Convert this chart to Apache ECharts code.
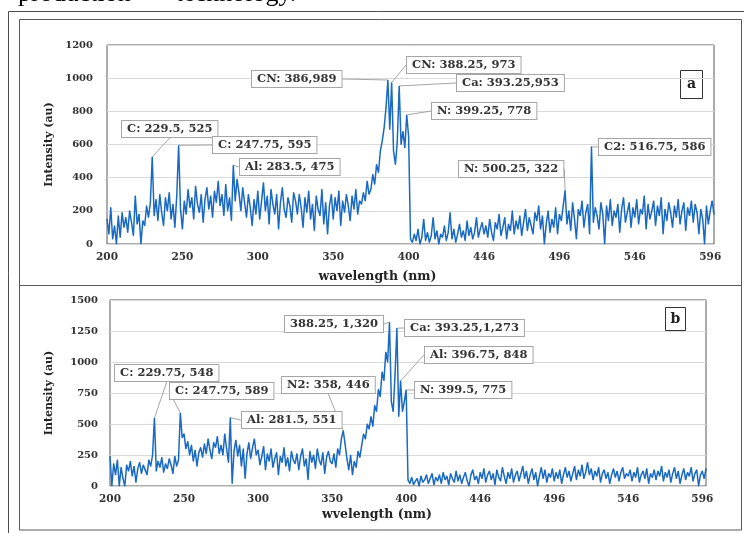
<!DOCTYPE html>
<html><head><meta charset="utf-8">
<script src="https://cdn.jsdelivr.net/npm/echarts@6/dist/echarts.min.js"></script>
<style>html,body{margin:0;padding:0;background:#fff}#c{width:744px;height:533px}</style>
</head><body><div id="c"></div>
<script>
// ---------- data ----------
const tickLabels = [200, 250, 300, 350, 400, 446, 496, 546, 596];
const pointsPerTick = 40;   // samples between two tick labels
const tailPoints = 2;       // samples past the last tick label

// panel a: intensity (au), 200 -> 400 nm
const intensityA_low = [
 150, 60, 220, 30, 110, 0, 170, 40, 190, 100, 160, 70, 200, 130, 50, 290, 120, 180, 0, 140,
 110, 230, 160, 250, 525, 170, 270, 140, 300, 190, 110, 280, 200, 310, 150, 240, 100, 290, 595, 210,
 90, 260, 180, 330, 220, 280, 150, 350, 240, 190, 300, 130, 270, 340, 210, 290, 160, 320, 250, 380,
 230, 300, 170, 360, 200, 280, 140, 475, 260, 390, 310, 200, 340, 250, 160, 300, 220, 110, 270, 180,
 320, 150, 260, 370, 200, 290, 120, 330, 240, 180, 300, 90, 250, 340, 210, 160, 280, 230, 130, 310,
 260, 180, 300, 220, 100, 280, 190, 320, 150, 240, 80, 290, 210, 170, 330, 120, 250, 60, 230, 300,
 150, 280, 200, 320, 110, 260, 190, 300, 230, 140, 290, 210, 330, 180, 260, 240, 310, 260, 380, 300,
 330, 420, 360, 480, 430, 560, 620, 700, 820, 989, 690, 973, 560, 480, 620, 953, 600, 680, 580, 778, 650
];
// panel a: intensity (au), past 400 nm
const intensityA_high = [
 30, 10, 60, 20, 90, 0, 40, 150, 20, 70, 10, 50, 160, 30, 80, 0, 60, 40, 110, 20,
 70, 190, 30, 90, 10, 60, 120, 40, 80, 20, 140, 50, 100, 30, 70, 160, 40, 90, 130, 60,
 110, 40, 150, 70, 20, 130, 90, 180, 50, 100, 160, 30, 120, 80, 200, 60, 140, 90, 170, 50,
 130, 210, 80, 160, 110, 60, 190, 140, 230, 90, 170, 0, 120, 200, 70, 150, 100, 220, 60, 180,
 140, 230, 322, 120, 200, 80, 250, 150, 30, 210, 170, 260, 100, 190, 240, 60, 586, 130, 220, 170,
 90, 250, 180, 0, 230, 140, 270, 110, 200, 160, 240, 70, 210, 280, 130, 190, 250, 100, 220, 160,
 270, 120, 210, 180, 290, 90, 240, 150, 200, 260, 110, 230, 170, 280, 60, 210, 140, 250, 190, 100,
 230, 160, 270, 120, 200, 250, 80, 220, 170, 260, 130, 240, 190, 60, 210, 150, 0, 230, 120, 200,
 260, 180
];
// panel b: intensity (au), 200 -> 400 nm
const intensityB_low = [
 240, 0, 180, 90, 210, 0, 150, 60, 0, 170, 120, 200, 80, 160, 30, 140, 190, 100, 170, 130,
 90, 210, 160, 250, 548, 120, 200, 150, 230, 110, 180, 140, 220, 170, 100, 240, 160, 210, 589, 390,
 420, 300, 360, 250, 330, 200, 290, 160, 270, 310, 230, 340, 260, 380, 290, 220, 350, 310, 400, 260,
 330, 250, 420, 300, 190, 551, 20, 280, 370, 240, 330, 160, 300, 60, 260, 350, 220, 310, 380, 250,
 290, 170, 240, 320, 130, 260, 200, 300, 150, 220, 270, 90, 240, 190, 310, 160, 230, 120, 280, 210,
 180, 260, 130, 240, 300, 160, 220, 50, 280, 190, 250, 140, 300, 210, 170, 270, 100, 230, 280, 200,
 180, 260, 150, 300, 250, 380, 446, 340, 220, 130, 250, 90, 200, 150, 280, 230, 330, 420, 380, 500,
 460, 560, 480, 650, 600, 780, 720, 920, 850, 1080, 1000, 1320, 680, 600, 900, 1273, 560, 848, 600, 680, 775
];
// panel b: intensity (au), past 400 nm
const intensityB_high = [
 50, 20, 70, 10, 40, 60, 0, 80, 30, 50, 90, 20, 60, 100, 10, 70, 40, 90, 20, 110,
 50, 80, 10, 100, 60, 30, 120, 40, 90, 20, 70, 110, 40, 0, 90, 130, 50, 80, 20, 110,
 60, 140, 30, 90, 120, 50, 100, 10, 130, 70, 40, 150, 80, 20, 110, 60, 140, 30, 90, 120,
 40, 100, 160, 60, 120, 20, 90, 140, 50, 110, 0, 80, 150, 60, 130, 30, 100, 70, 140, 40,
 110, 60, 130, 20, 90, 150, 70, 120, 40, 100, 160, 50, 130, 80, 170, 60, 110, 190, 90, 140,
 50, 120, 80, 150, 30, 100, 130, 60, 110, 20, 90, 140, 70, 120, 40, 110, 150, 60, 100, 80,
 130, 40, 110, 70, 150, 30, 90, 120, 60, 140, 20, 100, 70, 130, 50, 120, 80, 160, 40, 110,
 70, 130, 30, 100, 150, 60, 120, 20, 90, 140, 50, 110, 80, 150, 40, 100, 130, 0, 90, 120,
 60, 140
];

// peak annotations
const peaksA = [
 {wl: 229.5,  text: 'C: 229.5, 525'},
 {wl: 247.75, text: 'C: 247.75, 595'},
 {wl: 283.5,  text: 'Al: 283.5, 475'},
 {wl: 386,    text: 'CN: 386,989'},
 {wl: 388.25, text: 'CN: 388.25, 973'},
 {wl: 393.25, text: 'Ca: 393.25,953'},
 {wl: 399.25, text: 'N: 399.25, 778'},
 {wl: 500.25, text: 'N: 500.25, 322'},
 {wl: 516.75, text: 'C2: 516.75, 586'}
];
const peaksB = [
 {wl: 229.75, text: 'C: 229.75, 548'},
 {wl: 247.75, text: 'C: 247.75, 589'},
 {wl: 281.5,  text: 'Al: 281.5, 551'},
 {wl: 358,    text: 'N2: 358, 446'},
 {wl: 388.25, text: '388.25, 1,320'},
 {wl: 393.25, text: 'Ca: 393.25,1,273'},
 {wl: 396.75, text: 'Al: 396.75, 848'},
 {wl: 399.5,  text: 'N: 399.5, 775'}
];

// ---------- layout / style ----------
const boxPosA = [[122,121],[213,137],[240,159],[252,71],[407,57],[457,75],[432,103],[459,161],[599,139]];
const boxPosB = [[115,365],[170,383],[242,412],[282,377],[285,316],[405,320],[425,347],[415,382]];
const lineColor = '#1a6ac4';
const serif = 'DejaVu Serif';

// categories built from the tick labels
const categories = [];
for (let t = 0; t < tickLabels.length - 1; t++) {
  for (let k = 0; k < pointsPerTick; k++) {
    categories.push(+(tickLabels[t] + (tickLabels[t+1] - tickLabels[t]) * k / pointsPerTick).toFixed(2));
  }
}
categories.push(tickLabels[tickLabels.length - 1]);
const lastStep = (tickLabels[tickLabels.length-1] - tickLabels[tickLabels.length-2]) / pointsPerTick;
for (let k = 1; k <= tailPoints; k++) categories.push(+(tickLabels[tickLabels.length-1] + lastStep * k).toFixed(2));

function nearestIndex(wl) {
  let best = 0, bd = Infinity;
  categories.forEach((c, i) => { const d = Math.abs(c - wl); if (d < bd - 1e-9) { bd = d; best = i; } });
  return best;
}

function makeSeries(values, peaks, boxes, axisIdx) {
  const peakIdx = peaks.map(p => nearestIndex(p.wl));
  const data = values.map((v, i) => {
    const k = peakIdx.indexOf(i);
    if (k < 0) return v;
    return {value: v, label: {show: true, formatter: peaks[k].text}, labelLine: {show: true}};
  });
  return {
    type: 'line', xAxisIndex: axisIdx, yAxisIndex: axisIdx, data: data,
    showSymbol: true, showAllSymbol: true, symbol: 'circle', symbolSize: 1,
    itemStyle: {color: lineColor}, lineStyle: {color: lineColor, width: 1.5},
    label: {show: false, fontFamily: serif, fontWeight: 'bold', fontSize: 11.5, color: '#333',
            backgroundColor: '#fff', borderColor: '#a6a6a6', borderWidth: 1, padding: [2, 5]},
    labelLine: {show: true, lineStyle: {color: '#a6a6a6', width: 1}},
    labelLayout: function (p) {
      const k = peakIdx.indexOf(p.dataIndex);
      if (k < 0) return {};
      return {x: boxes[k][0], y: boxes[k][1], align: 'left', verticalAlign: 'top'};
    },
    emphasis: {disabled: true}, silent: true, animation: false
  };
}

function xAxisCfg(gridIdx, name, nameGap, padRight) {
  return {
    gridIndex: gridIdx, type: 'category', data: categories.map(String), boundaryGap: false,
    axisLine: {show: false}, axisTick: {show: false}, splitLine: {show: false},
    axisLabel: {interval: pointsPerTick - 1, margin: 8, fontFamily: serif, fontWeight: 'bold', fontSize: 10.5, color: '#333',
      formatter: (v, i) => (i % pointsPerTick === 0 && i / pointsPerTick < tickLabels.length) ? String(tickLabels[i / pointsPerTick]) : ''},
    name: name, nameLocation: 'middle', nameGap: nameGap,
    nameTextStyle: {fontFamily: serif, fontWeight: 'bold', fontSize: 12.5, color: '#222', padding: [0, padRight, 0, 0]}
  };
}
function yAxisCfg(gridIdx, max, interval, nameGap, margin) {
  return {
    gridIndex: gridIdx, type: 'value', min: 0, max: max, interval: interval,
    axisLine: {show: false}, axisTick: {show: false},
    splitLine: {lineStyle: {color: '#d9d9d9', width: 1}},
    axisLabel: {margin: margin, fontFamily: serif, fontWeight: 'bold', fontSize: 10, color: '#333', formatter: v => String(v)},
    name: 'Intensity (au)', nameLocation: 'middle', nameGap: nameGap, nameRotate: 90,
    nameTextStyle: {fontFamily: serif, fontWeight: 'bold', fontSize: 11, color: '#222'}
  };
}

const chart = echarts.init(document.getElementById('c'), null, {renderer: 'canvas'});
chart.setOption({
  backgroundColor: '#fff',
  animation: false,
  grid: [
    {left: 107, right: 30, top: 45, bottom: 289, show: true, borderColor: '#595959', borderWidth: 1},
    {left: 110, right: 38, top: 300, bottom: 47, show: true, borderColor: '#595959', borderWidth: 1}
  ],
  xAxis: [xAxisCfg(0, 'wavelength (nm)', 26, 66), xAxisCfg(1, 'wvelength (nm)', 22, 62)],
  yAxis: [yAxisCfg(0, 1200, 200, 52, 14), yAxisCfg(1, 1500, 250, 55, 12)],
  series: [
    makeSeries(intensityA_low.concat(intensityA_high), peaksA, boxPosA, 0),
    makeSeries(intensityB_low.concat(intensityB_high), peaksB, boxPosB, 1)
  ],
  graphic: [
    {type: 'text', left: 18, top: -19, style: {text: 'production', font: '26px "Liberation Serif"', fill: '#000'}},
    {type: 'text', left: 176, top: -19, style: {text: 'technology.', font: '26px "Liberation Serif"', fill: '#000'}},
    {type: 'rect', shape: {x: 8.5, y: 11.5, width: 800, height: 600}, style: {fill: 'none', stroke: '#4d4d4d', lineWidth: 1}, silent: true},
    {type: 'rect', shape: {x: 19.5, y: 19.5, width: 722, height: 266}, style: {fill: 'none', stroke: '#595959', lineWidth: 1}, silent: true},
    {type: 'rect', shape: {x: 19.5, y: 285.5, width: 722, height: 244.5}, style: {fill: 'none', stroke: '#595959', lineWidth: 1}, silent: true},
    {type: 'rect', shape: {x: 680.5, y: 70.5, width: 22, height: 28}, style: {fill: '#fff', stroke: '#333', lineWidth: 1}, silent: true},
    {type: 'text', x: 691.5, y: 84.5, style: {text: 'a', font: 'bold 14px "DejaVu Serif"', fill: '#222', align: 'center', verticalAlign: 'middle'}, silent: true},
    {type: 'rect', shape: {x: 665.5, y: 307.5, width: 20, height: 23}, style: {fill: '#fff', stroke: '#333', lineWidth: 1}, silent: true},
    {type: 'text', x: 675.5, y: 319, style: {text: 'b', font: 'bold 14px "DejaVu Serif"', fill: '#222', align: 'center', verticalAlign: 'middle'}, silent: true}
  ]
});
</script>
</body></html>
